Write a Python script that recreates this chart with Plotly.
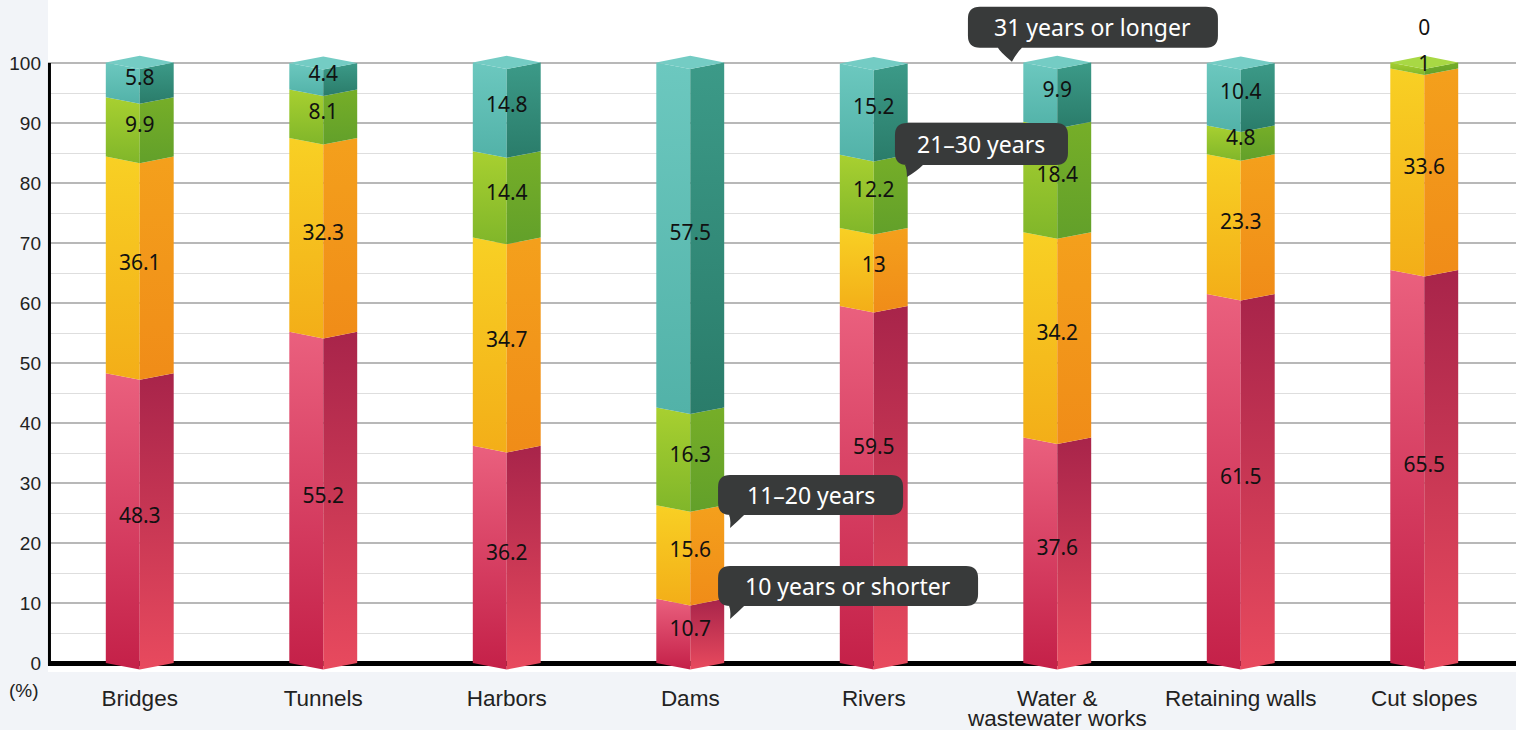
import plotly.graph_objects as go

# ---------------- data ----------------
categories = ["Bridges", "Tunnels", "Harbors", "Dams", "Rivers",
              "Water & wastewater works", "Retaining walls", "Cut slopes"]
tick_text = ["Bridges", "Tunnels", "Harbors", "Dams", "Rivers",
             "Water &", "Retaining walls", "Cut slopes"]
tick_second_line = {5: "wastewater works"}
series_names = ["10 years or shorter", "11–20 years", "21–30 years", "31 years or longer"]
le10 = [48.3, 55.2, 36.2, 10.7, 59.5, 37.6, 61.5, 65.5]
y11_20 = [36.1, 32.3, 34.7, 15.6, 13, 34.2, 23.3, 33.6]
y21_30 = [9.9, 8.1, 14.4, 16.3, 12.2, 18.4, 4.8, 1]
ge31 = [5.8, 4.4, 14.8, 57.5, 15.2, 9.9, 10.4, 0]
y_ticks = [0, 10, 20, 30, 40, 50, 60, 70, 80, 90, 100]
y_minor = [5, 15, 25, 35, 45, 55, 65, 75, 85, 95]

series_values = [le10, y11_20, y21_30, ge31]

# ---------------- styles ----------------
# (left face top, left face bottom, right face top, right face bottom, cap)
palette = [
    ("#ea607e", "#c42048", "#a8244a", "#e84a5e", "#e8607c"),
    ("#f8d024", "#f3ae18", "#f4a01c", "#f08c18", "#f8d024"),
    ("#a8d030", "#80b62a", "#76ae28", "#62a02a", "#a8d844"),
    ("#6cc8bf", "#52b2a8", "#3c9a88", "#2a7c6a", "#74ccc4"),
]
W = 0.185   # half width of the prism (category units)
D = 1.1     # slant of the front edge (y units)
label_nudge = {(4, 0): 6.0}   # (category, series) -> extra label lift (keeps label clear of callout)
TICK_FONT = dict(family="Liberation Sans", size=22.5, color="#222")

fig = go.Figure()


def poly(xs, ys, ctop, cbot, name):
    fig.add_trace(go.Scatter(
        x=xs, y=ys, mode="lines", fill="toself",
        line=dict(width=0, color=cbot),
        fillcolor=cbot,
        fillgradient=dict(type="vertical",
                          colorscale=[[0, cbot], [1, ctop]]),
        hoverinfo="skip", showlegend=False, name=name))


for i, cat in enumerate(categories):
    base = 0.0
    top_series = max(k for k in range(4) if series_values[k][i] > 0)
    for s, vals in enumerate(series_values):
        v = vals[i]
        if v <= 0:
            continue
        b, t = base, base + v
        lt, lb, rt, rb, cap = palette[s]
        poly([i - W, i, i, i - W, i - W], [b, b - D, t - D, t, b], lt, lb, series_names[s])
        poly([i, i + W, i + W, i, i], [b - D, b, t, t - D, b - D], rt, rb, series_names[s])
        if s == top_series:
            fig.add_trace(go.Scatter(
                x=[i - W, i, i + W, i, i - W], y=[t, t - D, t, t + D, t],
                mode="lines", fill="toself", line=dict(width=0, color=cap),
                fillcolor=cap, hoverinfo="skip", showlegend=False))
        base = t

# value labels
for s, vals in enumerate(series_values):
    xs, ys, txt = [], [], []
    for i in range(len(categories)):
        below = sum(series_values[k][i] for k in range(s))
        v = vals[i]
        xs.append(i)
        y = below + v / 2 if v > 0 else below + 5.5
        ys.append(y + label_nudge.get((i, s), 0))
        txt.append(f"{v:g}")
    fig.add_trace(go.Scatter(
        x=xs, y=ys, mode="text", text=txt,
        textfont=dict(family="Noto Sans", size=21, color="#111111"),
        cliponaxis=False, hoverinfo="skip", showlegend=False))

# ---------------- callouts ----------------
def bubble(x0, x1, y0, y1, tl, tr, r=12):
    def P(x, y):
        return f"{x},{-y}"
    p = [f"M {P(x0 + r, y0)}",
         f"L {P(x1 - r, y0)}", f"Q {P(x1, y0)} {P(x1, y0 + r)}",
         f"L {P(x1, y1 - r)}", f"Q {P(x1, y1)} {P(x1 - r, y1)}",
         f"L {P(tr, y1)}", f"Q {P(tr - 6, y1 + 6)} {P(0, 0)}",
         f"Q {P(tl + 2, y1 + 4)} {P(tl, y1)}",
         f"L {P(x0 + r, y1)}", f"Q {P(x0, y1)} {P(x0, y1 - r)}",
         f"L {P(x0, y0 + r)}", f"Q {P(x0, y0)} {P(x0 + r, y0)}", "Z"]
    return " ".join(p)


callouts = [
    ("31 years or longer", 4.753, 100.2, -44, 206, -55, -14, -14, 10),
    ("21–30 years", 4.181, 81.0, -12, 161, -54, -12, -2, 16),
    ("11–20 years", 3.217, 22.5, -12, 173, -53, -13, -1, 14),
    ("10 years or shorter", 3.217, 7.33, -12, 248, -53, -13, -1, 14),
]
for text, tx, ty, x0, x1, y0, y1, tl, tr in callouts:
    fig.add_shape(type="path", xref="x", yref="y", xsizemode="pixel", ysizemode="pixel",
                  xanchor=tx, yanchor=ty, path=bubble(x0, x1, y0, y1, tl, tr),
                  fillcolor="#383a3a", line=dict(width=0), layer="above")
    fig.add_annotation(x=tx, y=ty, xref="x", yref="y", text=text, showarrow=False,
                       xshift=(x0 + x1) / 2, yshift=-(y0 + y1) / 2,
                       font=dict(family="Noto Sans", size=23, color="white"))

# second line of a two-line category label (tighter line spacing than plotly's default)
for i, line2 in tick_second_line.items():
    fig.add_annotation(x=i, y=0, xref="x", yref="paper", yanchor="middle", yshift=-46,
                       showarrow=False, text=line2, font=TICK_FONT)

# left axis line and (%) label
fig.add_shape(type="line", xref="paper", yref="y", x0=0.001, x1=0.001, y0=-0.4, y1=100,
              line=dict(color="black", width=3), layer="above")
fig.add_annotation(xref="paper", yref="paper", x=0, y=0, xshift=-24, yshift=-18,
                   xanchor="center", yanchor="middle", showarrow=False,
                   text="(%)", font=dict(family="Liberation Sans", size=19, color="#222"))

fig.update_layout(
    width=1516, height=730,
    margin=dict(l=48, r=0, t=0, b=58, autoexpand=False),
    paper_bgcolor="#f2f4f8", plot_bgcolor="white",
    showlegend=False,
    xaxis=dict(range=[-0.5, 7.5], tickmode="array", tickvals=list(range(8)),
               ticktext=tick_text, showgrid=False, zeroline=False, showline=False,
               ticks="", ticklabelstandoff=10, automargin=False,
               tickfont=TICK_FONT, fixedrange=True),
    yaxis=dict(range=[-1.5, 110.5], tickmode="array", tickvals=y_ticks,
               showgrid=True, gridcolor="#b8b8b8", gridwidth=1.5,
               minor=dict(tickmode="array", tickvals=y_minor, showgrid=True,
                          gridcolor="#dedede", gridwidth=1),
               zeroline=True, zerolinecolor="black", zerolinewidth=5,
               showline=False, ticks="", ticklabelstandoff=6, automargin=False,
               tickfont=dict(family="Liberation Sans", size=19, color="#222"),
               fixedrange=True),
)

fig.write_html("out.html", config={"displayModeBar": False},
               post_script="document.body.style.margin='0';document.body.style.overflow='hidden';")
